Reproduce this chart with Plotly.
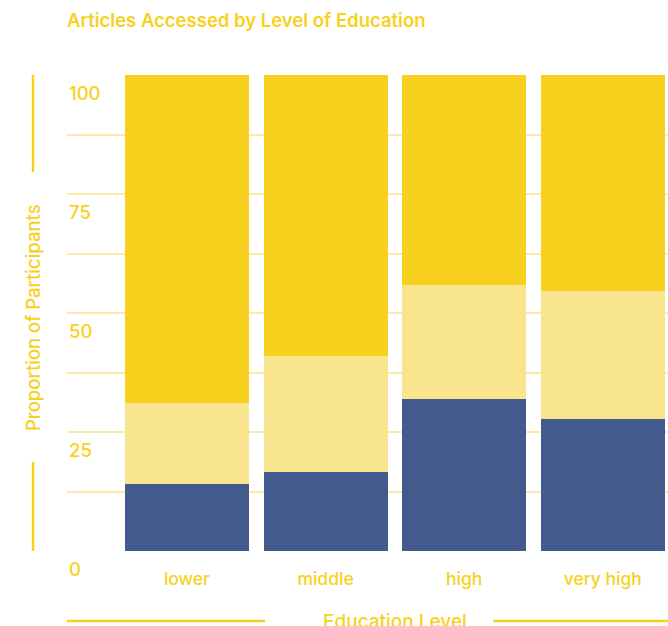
import plotly.graph_objects as go

categories = ["lower", "middle", "high", "very high"]
seg_blue = [14.1, 16.6, 31.9, 27.7]
seg_light = [17.0, 24.4, 24.0, 26.9]
seg_yellow = [68.9, 59.0, 44.1, 45.4]
ytick_vals = [0, 25, 50, 75, 100]
ytick_text = ["0", "25", "50", "75", "100"]

YEL = "#F7D11E"
LIGHT = "#FAE58F"
BLUE = "#435A8C"
GRID = "#FCEBA7"
FONT = "Inter, Roboto, sans-serif"

fig = go.Figure()
for vals, col in [(seg_blue, BLUE), (seg_light, LIGHT), (seg_yellow, YEL)]:
    fig.add_trace(go.Bar(x=categories, y=vals, marker=dict(color=col, line=dict(width=0)),
                         showlegend=False, hoverinfo="skip"))

fig.update_layout(
    barmode="stack",
    bargap=0.106,
    width=668, height=626,
    margin=dict(l=67, r=0, t=75, b=75),
    paper_bgcolor="white", plot_bgcolor="white",
    font=dict(family=FONT, color=YEL),
    title=dict(text="Articles Accessed by Level of Education", x=67/668, xanchor="left",
               y=1 - 21/626, yanchor="middle",
               font=dict(size=18.5, color=YEL, family=FONT, weight=600)),
    xaxis=dict(range=[-0.865, 3.47], showgrid=False, zeroline=False, showline=False,
               ticks="outside", ticklen=12, tickcolor="rgba(0,0,0,0)",
               tickfont=dict(size=17.5, color=YEL, family=FONT, weight=500)),
    yaxis=dict(range=[0, 100], dtick=12.5, showgrid=True, gridcolor=GRID, gridwidth=1.5,
               showticklabels=False, zeroline=False, showline=False),
)

for v, t in zip(ytick_vals, ytick_text):
    fig.add_annotation(x=0, xref="paper", y=v, yref="y", yshift=-18, text=t, showarrow=False,
                       xanchor="left", yanchor="middle",
                       font=dict(size=18.5, color=YEL, family=FONT, weight=500))

# y title and lines
yx = (33 - 67) / 601
fig.add_annotation(x=yx, xref="paper", y=0.5 - 5/476, yref="paper", text="Proportion of Participants",
                   textangle=-90, showarrow=False, xanchor="center", yanchor="middle",
                   font=dict(size=18.5, color=YEL, family=FONT, weight=500))
fig.add_shape(type="line", xref="paper", yref="paper", x0=yx, x1=yx, y0=1, y1=(551-172)/476,
              line=dict(color=YEL, width=2.5))
fig.add_shape(type="line", xref="paper", yref="paper", x0=yx, x1=yx, y0=0, y1=(551-462)/476,
              line=dict(color=YEL, width=2.5))

# x title and lines
xy = -(621 - 551) / 476
fig.add_annotation(x=(395-67)/601, xref="paper", y=xy, yref="paper", text="Education Level",
                   showarrow=False, xanchor="center", yanchor="middle",
                   font=dict(size=19, color=YEL, family=FONT, weight=500))
fig.add_shape(type="line", xref="paper", yref="paper", x0=0, x1=(265-67)/601, y0=xy, y1=xy,
              line=dict(color=YEL, width=2.5))
fig.add_shape(type="line", xref="paper", yref="paper", x0=(493-67)/601, x1=1, y0=xy, y1=xy,
              line=dict(color=YEL, width=2.5))

fig.write_html("out.html")
